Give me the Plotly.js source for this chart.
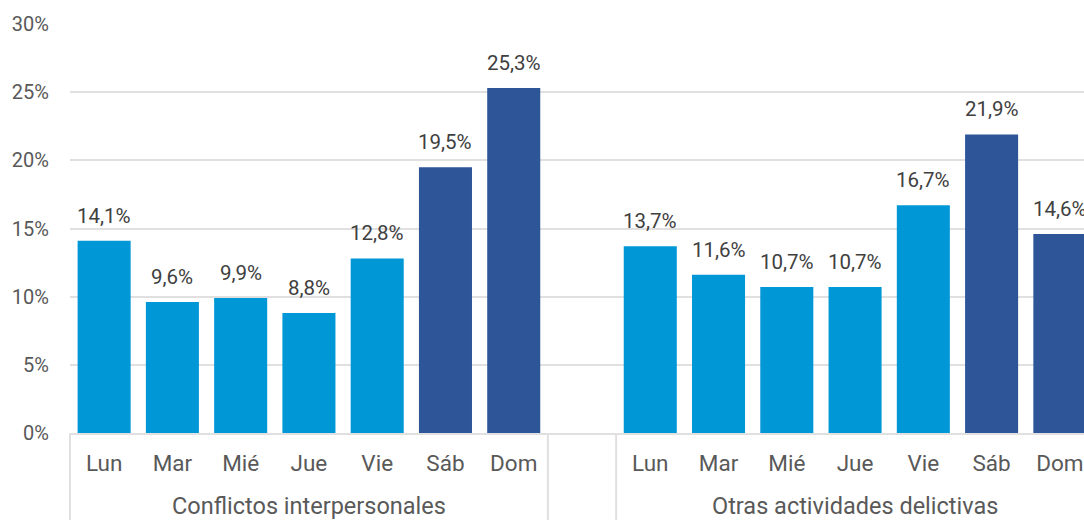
<!DOCTYPE html>
<html>
<head>
<meta charset="utf-8">
<script src="https://cdn.plot.ly/plotly-3.0.1.min.js"></script>
<style>
  html, body { margin: 0; padding: 0; overflow: hidden; background: #fff; }
  #chart { width: 1100px; height: 520px; }
</style>
</head>
<body>
<div id="chart"></div>
<script>
// days of the week, repeated in each group
var days = ["Lun", "Mar", "Mié", "Jue", "Vie", "Sáb", "Dom"];
var groups = ["Conflictos interpersonales", "Otras actividades delictivas"];
var conflictos = [14.1, 9.6, 9.9, 8.8, 12.8, 19.5, 25.3];
var otras = [13.7, 11.6, 10.7, 10.7, 16.7, 21.9, 14.6];
var weekend = ["Sáb", "Dom"];
var yTicks = [0, 5, 10, 15, 20, 25, 30];

var lightBlue = "#0097d7";
var darkBlue = "#2e5597";
var textGray = "#595959";
var gridGray = "#e0e0e0";
var fontFam = "Roboto";

var series = [conflictos, otras];
var nCats = days.length * 2 + 1;   // one empty slot between the groups

function pct(v) { return v.toFixed(1).replace(".", ",") + "%"; }

var traces = series.map(function (vals, g) {
    var offset = g * (days.length + 1);
    return {
        type: "bar",
        x: days.map(function (d, i) { return offset + i; }),
        y: vals,
        marker: {
            color: days.map(function (d) { return weekend.indexOf(d) >= 0 ? darkBlue : lightBlue; })
        },
        hoverinfo: "skip",
        showlegend: false
    };
});

var tickvals = [], ticktext = [];
groups.forEach(function (g, gi) {
    days.forEach(function (d, i) {
        tickvals.push(gi * (days.length + 1) + i);
        ticktext.push(d);
    });
});

var annotations = [];
// value labels above the bars
traces.forEach(function (t) {
    t.x.forEach(function (xv, i) {
        annotations.push({
            text: pct(t.y[i]),
            xref: "x", yref: "y",
            x: xv, y: t.y[i],
            xanchor: "center", yanchor: "bottom",
            yshift: 11,
            showarrow: false,
            font: { family: fontFam, size: 20.5, color: "#404040" }
        });
    });
});
// group labels under the day labels
groups.forEach(function (g, gi) {
    annotations.push({
        text: g,
        xref: "x", yref: "paper",
        x: gi * (days.length + 1) + (days.length - 1) / 2,
        y: -0.178,
        xanchor: "center", yanchor: "middle",
        showarrow: false,
        font: { family: fontFam, size: 23.5, color: textGray }
    });
});

// vertical divider lines below the axis
var dividers = [0, days.length, days.length + 1, nCats].map(function (c) {
    return {
        type: "line",
        xref: "paper", yref: "paper",
        x0: c / nCats, x1: c / nCats,
        y0: 0, y1: -0.3,
        line: { color: gridGray, width: 2 }
    };
});

var layout = {
    width: 1100,
    height: 520,
    margin: { l: 70, r: 6, t: 24, b: 87 },
    paper_bgcolor: "#ffffff",
    plot_bgcolor: "#ffffff",
    bargap: 0.223,
    font: { family: fontFam, color: textGray },
    xaxis: {
        range: [-0.5, nCats - 0.5],
        tickmode: "array",
        tickvals: tickvals,
        ticktext: ticktext,
        ticks: "outside",
        ticklen: 9,
        tickcolor: "rgba(0,0,0,0)",
        tickfont: { family: fontFam, size: 22.5, color: textGray },
        showgrid: false,
        zeroline: false,
        showline: true,
        linecolor: gridGray,
        linewidth: 2,
        fixedrange: true
    },
    yaxis: {
        range: [0, 30],
        tickmode: "array",
        tickvals: yTicks,
        ticktext: yTicks.map(function (v) { return v + "%"; }),
        ticks: "outside",
        ticklen: 16,
        tickcolor: "rgba(0,0,0,0)",
        tickfont: { family: fontFam, size: 20, color: textGray },
        showgrid: true,
        gridcolor: gridGray,
        gridwidth: 2,
        zeroline: false,
        fixedrange: true
    },
    annotations: annotations,
    shapes: dividers
};

Plotly.newPlot("chart", traces, layout, { displayModeBar: false, staticPlot: true });
</script>
</body>
</html>
